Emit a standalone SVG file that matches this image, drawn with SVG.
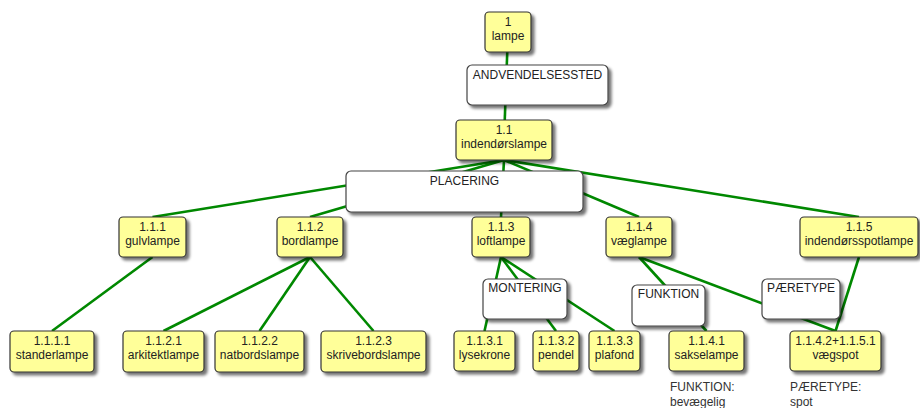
<svg xmlns="http://www.w3.org/2000/svg" width="920" height="408" viewBox="0 0 920 408">
<defs>
<filter id="sh" x="-20%" y="-20%" width="140%" height="150%">
<feGaussianBlur in="SourceAlpha" stdDeviation="1.6"/>
<feOffset dx="3" dy="3" result="b"/>
<feComponentTransfer><feFuncA type="linear" slope="0.55"/></feComponentTransfer>
<feMerge><feMergeNode/><feMergeNode in="SourceGraphic"/></feMerge>
</filter>
</defs>
<style>
.n rect{fill:#ffff99;stroke:#333;stroke-width:1.2;filter:url(#sh)}
.l rect{fill:#fff;stroke:#444;stroke-width:1.2;filter:url(#sh)}
text{font-family:"Liberation Sans",Arial,sans-serif;font-size:12px;fill:#222}
.n text,.l text{text-anchor:middle}
.a{fill:#333}
#edges line{stroke:#008800;stroke-width:2.6}
</style>
<rect width="920" height="408" fill="#fff"/>
<g id="edges">
<line x1="508" y1="32" x2="504" y2="140"/>
<line x1="504" y1="160" x2="152.5" y2="217"/>
<line x1="504" y1="160" x2="310" y2="217"/>
<line x1="504" y1="160" x2="501" y2="217"/>
<line x1="504" y1="160" x2="639" y2="217"/>
<line x1="504" y1="160" x2="859" y2="217"/>
<line x1="152.5" y1="257" x2="52" y2="331"/>
<line x1="310" y1="257" x2="163.5" y2="331"/>
<line x1="310" y1="257" x2="259.5" y2="331"/>
<line x1="310" y1="257" x2="373.5" y2="331"/>
<line x1="501" y1="257" x2="484.5" y2="331"/>
<line x1="501" y1="257" x2="556" y2="331"/>
<line x1="501" y1="257" x2="614.5" y2="331"/>
<line x1="639" y1="257" x2="706.5" y2="331"/>
<line x1="639" y1="257" x2="835.5" y2="331"/>
<line x1="859" y1="257" x2="835.5" y2="331"/>
</g>
<g id="n1" class="n"><rect x="485" y="12" width="46" height="40" rx="4"/><text x="508" y="26">1</text><text x="508" y="40">lampe</text></g>
<g id="lbl-andvendelsessted" class="l"><rect x="467" y="65" width="141" height="40" rx="5"/><text x="537.5" y="79">ANDVENDELSESSTED</text></g>
<g id="n1-1" class="n"><rect x="456" y="120" width="96" height="40" rx="4"/><text x="504" y="134">1.1</text><text x="504" y="148">indendørslampe</text></g>
<g id="lbl-placering" class="l"><rect x="346" y="171" width="237" height="41" rx="5"/><text x="464.5" y="185">PLACERING</text></g>
<g id="n1-1-1" class="n"><rect x="119" y="217" width="67" height="40" rx="4"/><text x="152.5" y="231">1.1.1</text><text x="152.5" y="245">gulvlampe</text></g>
<g id="n1-1-2" class="n"><rect x="277" y="217" width="66" height="40" rx="4"/><text x="310" y="231">1.1.2</text><text x="310" y="245">bordlampe</text></g>
<g id="n1-1-3" class="n"><rect x="472" y="217" width="58" height="40" rx="4"/><text x="501" y="231">1.1.3</text><text x="501" y="245">loftlampe</text></g>
<g id="n1-1-4" class="n"><rect x="606" y="217" width="66" height="40" rx="4"/><text x="639" y="231">1.1.4</text><text x="639" y="245">væglampe</text></g>
<g id="n1-1-5" class="n"><rect x="800" y="217" width="118" height="40" rx="4"/><text x="859" y="231">1.1.5</text><text x="859" y="245">indendørsspotlampe</text></g>
<g id="lbl-montering" class="l"><rect x="483" y="279" width="84" height="40" rx="5"/><text x="525" y="292">MONTERING</text></g>
<g id="lbl-funktion" class="l"><rect x="632" y="285" width="73" height="41" rx="5"/><text x="668.5" y="298">FUNKTION</text></g>
<g id="lbl-paeretype" class="l"><rect x="762" y="279" width="78" height="40" rx="5"/><text x="801" y="292">PÆRETYPE</text></g>
<g id="n1-1-1-1" class="n"><rect x="10" y="331" width="84" height="41" rx="4"/><text x="52" y="345">1.1.1.1</text><text x="52" y="359">standerlampe</text></g>
<g id="n1-1-2-1" class="n"><rect x="123" y="331" width="81" height="41" rx="4"/><text x="163.5" y="345">1.1.2.1</text><text x="163.5" y="359">arkitektlampe</text></g>
<g id="n1-1-2-2" class="n"><rect x="215" y="331" width="89" height="41" rx="4"/><text x="259.5" y="345">1.1.2.2</text><text x="259.5" y="359">natbordslampe</text></g>
<g id="n1-1-2-3" class="n"><rect x="321" y="331" width="105" height="41" rx="4"/><text x="373.5" y="345">1.1.2.3</text><text x="373.5" y="359">skrivebordslampe</text></g>
<g id="n1-1-3-1" class="n"><rect x="454" y="331" width="61" height="40" rx="4"/><text x="484.5" y="345">1.1.3.1</text><text x="484.5" y="359">lysekrone</text></g>
<g id="n1-1-3-2" class="n"><rect x="533" y="331" width="46" height="40" rx="4"/><text x="556" y="345">1.1.3.2</text><text x="556" y="359">pendel</text></g>
<g id="n1-1-3-3" class="n"><rect x="589" y="331" width="51" height="40" rx="4"/><text x="614.5" y="345">1.1.3.3</text><text x="614.5" y="359">plafond</text></g>
<g id="n1-1-4-1" class="n"><rect x="669" y="331" width="75" height="40" rx="4"/><text x="706.5" y="345">1.1.4.1</text><text x="706.5" y="359">sakselampe</text></g>
<g id="n1-1-4-2" class="n"><rect x="790" y="331" width="91" height="40" rx="4"/><text x="835.5" y="345">1.1.4.2+1.1.5.1</text><text x="835.5" y="359">vægspot</text></g>
<g id="notes">
<text class="a" x="670" y="391">FUNKTION:</text><text class="a" x="670" y="406">bevægelig</text>
<text class="a" x="790" y="391">PÆRETYPE:</text><text class="a" x="790" y="406">spot</text>
</g>
</svg>
